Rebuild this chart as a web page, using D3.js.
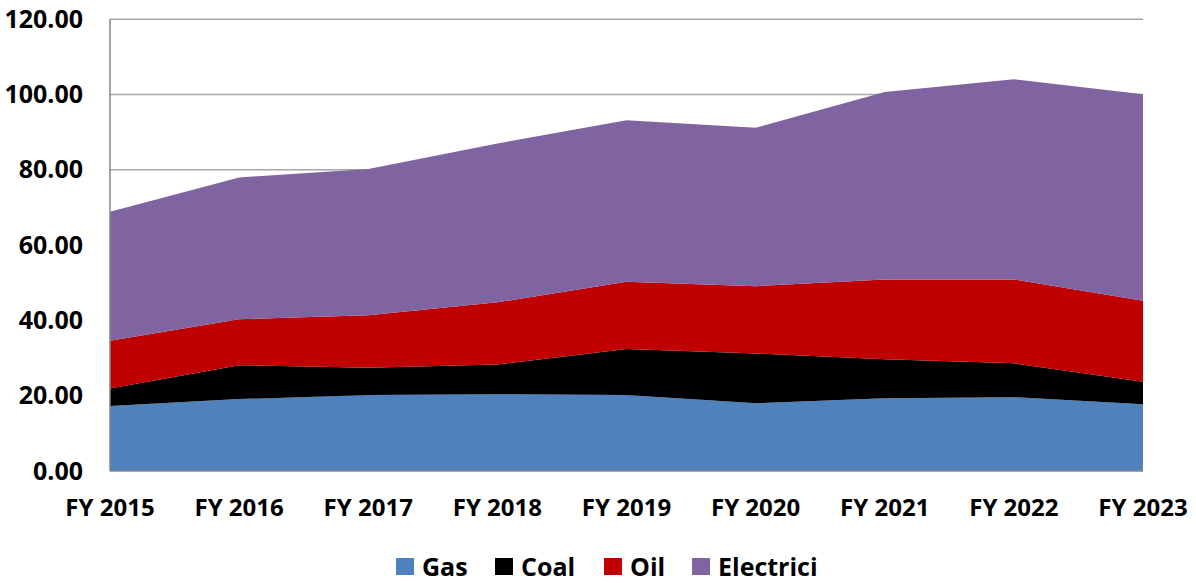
<!DOCTYPE html>
<html>
<head>
<meta charset="utf-8">
<script src="https://cdn.jsdelivr.net/npm/d3@7"></script>
<style>
  body { margin: 0; background: #fff; }
  svg text { font-family: "Open Sans", Lato, sans-serif; font-weight: bold; fill: #000; }
</style>
</head>
<body>
<div id="chart"></div>
<script>
// data
var years = ["FY 2015", "FY 2016", "FY 2017", "FY 2018", "FY 2019", "FY 2020", "FY 2021", "FY 2022", "FY 2023"];
var gas = [17.3, 19.1, 20.2, 20.4, 20.2, 18.0, 19.3, 19.6, 17.7];
var coal = [4.65, 9.0, 7.2, 7.9, 12.2, 13.2, 10.4, 9.0, 6.0];
var oil = [12.65, 12.2, 14.0, 16.5, 17.9, 17.9, 21.2, 22.3, 21.5];
var electricity = [34.3, 37.7, 38.8, 42.2, 42.9, 42.1, 49.8, 53.2, 54.9];
var seriesNames = ["Gas", "Coal", "Oil", "Electrici"];
var seriesColors = ["#4F81BD", "#000000", "#C00000", "#8064A2"];
var yTicks = [0, 20, 40, 60, 80, 100, 120];

var width = 1196, height = 583;
var plotLeft = 110, plotRight = 1143, plotTop = 19.3, plotBottom = 471;

var svg = d3.select("#chart")
  .append("svg")
  .attr("width", width)
  .attr("height", height);

var rows = years.map(function(yr, i) {
  return { year: yr, Gas: gas[i], Coal: coal[i], Oil: oil[i], Electrici: electricity[i] };
});

var x = d3.scalePoint().domain(years).range([plotLeft, plotRight]);
var y = d3.scaleLinear().domain([0, 120]).range([plotBottom, plotTop]);

// gridlines
svg.append("g")
  .selectAll("line")
  .data(yTicks.slice(1))
  .enter()
  .append("line")
  .attr("x1", plotLeft)
  .attr("x2", plotRight)
  .attr("y1", function(d) { return y(d); })
  .attr("y2", function(d) { return y(d); })
  .attr("stroke", "#a6a6a6")
  .attr("stroke-width", 1.5);

// stacked areas
var stack = d3.stack().keys(seriesNames);
var layers = stack(rows);

var area = d3.area()
  .x(function(d) { return x(d.data.year); })
  .y0(function(d) { return y(d[0]); })
  .y1(function(d) { return y(d[1]); });

svg.append("g")
  .selectAll("path")
  .data(layers)
  .enter()
  .append("path")
  .attr("d", area)
  .attr("fill", function(d, i) { return seriesColors[i]; });

// axis lines
svg.append("line")
  .attr("x1", plotLeft).attr("x2", plotLeft)
  .attr("y1", plotTop).attr("y2", plotBottom)
  .attr("stroke", "#868686").attr("stroke-width", 1.5);
svg.append("line")
  .attr("x1", plotLeft).attr("x2", plotRight)
  .attr("y1", plotBottom).attr("y2", plotBottom)
  .attr("stroke", "#868686").attr("stroke-width", 1.5);

// y tick labels
svg.append("g")
  .selectAll("text")
  .data(yTicks)
  .enter()
  .append("text")
  .attr("x", 83)
  .attr("y", function(d) { return y(d) + 8.5; })
  .attr("text-anchor", "end")
  .attr("font-size", "25px")
  .text(function(d) { return d.toFixed(2); });

// x tick labels
svg.append("g")
  .selectAll("text")
  .data(years)
  .enter()
  .append("text")
  .attr("x", function(d) { return x(d); })
  .attr("y", 516)
  .attr("text-anchor", "middle")
  .attr("font-size", "24px")
  .text(function(d) { return d; });

// legend
var legendX = [396, 495, 604, 692];
var legend = svg.append("g")
  .selectAll("g")
  .data(seriesNames)
  .enter()
  .append("g")
  .attr("transform", function(d, i) { return "translate(" + legendX[i] + ",558)"; });

legend.append("rect")
  .attr("width", 18)
  .attr("height", 17)
  .attr("fill", function(d, i) { return seriesColors[i]; });

legend.append("text")
  .attr("x", 26)
  .attr("y", 17.5)
  .attr("font-size", "25px")
  .text(function(d) { return d; });
</script>
</body>
</html>
